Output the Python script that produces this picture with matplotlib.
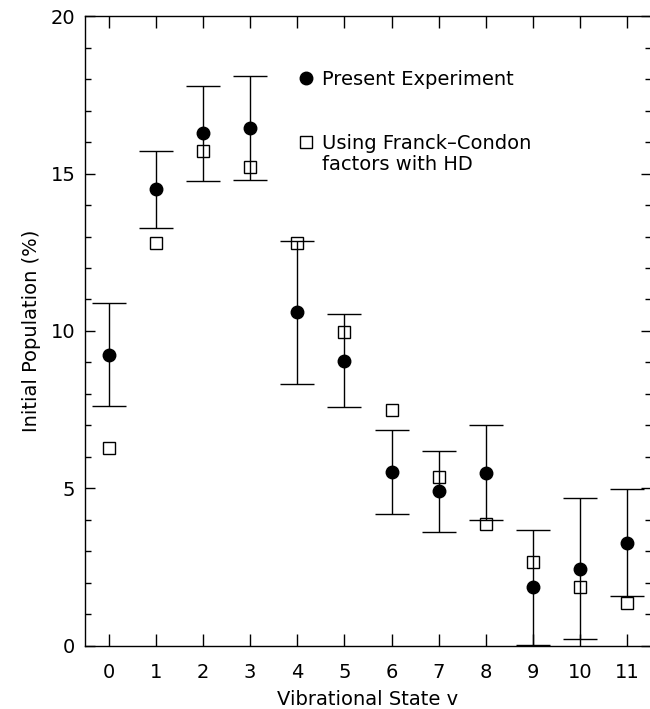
import matplotlib
matplotlib.use('Agg')
import matplotlib.pyplot as plt
from matplotlib.lines import Line2D
from matplotlib.ticker import MultipleLocator

# vibrational states
states = [0, 1, 2, 3, 4, 5, 6, 7, 8, 9, 10, 11]
# present experiment (%), with asymmetric error bar ends
present = [9.24, 14.51, 16.28, 16.43, 10.59, 9.05, 5.53, 4.91, 5.50, 1.86, 2.45, 3.28]
err_top = [10.88, 15.72, 17.77, 18.09, 12.87, 10.54, 6.87, 6.20, 7.02, 3.68, 4.69, 4.97]
err_bot = [7.62, 13.28, 14.77, 14.79, 8.33, 7.58, 4.20, 3.62, 4.01, 0.03, 0.22, 1.60]
# Franck-Condon factors with HD (%)
franck_condon = [6.28, 12.80, 15.71, 15.22, 12.80, 9.98, 7.48, 5.37, 3.86, 2.66, 1.86, 1.37]

plt.rcParams['font.family'] = ['DejaVu Sans']

fig = plt.figure(figsize=(6.5, 7.09), dpi=100)
ax = fig.add_axes([0.1308, 0.0889, 0.8707, 0.8885])

lower = [p - b for p, b in zip(present, err_bot)]
upper = [t - p for p, t in zip(present, err_top)]
ax.errorbar(states, present, yerr=[lower, upper], fmt='none', ecolor='black',
            elinewidth=1.0, capsize=12.2, capthick=1.0, zorder=2)
ax.plot(states, present, 'o', color='black', markersize=9, zorder=3)
ax.plot(states, franck_condon, 's', color='black', markersize=8.5,
        markerfacecolor='none', markeredgewidth=1.0, zorder=4)

ax.set_xlim(-0.5, 11.5)
ax.set_ylim(0, 20)
ax.set_xticks(states)
ax.yaxis.set_major_locator(MultipleLocator(5))
ax.yaxis.set_minor_locator(MultipleLocator(1))
ax.tick_params(axis='x', which='major', direction='in', top=True, length=8.6,
               width=1.0, pad=12, labelsize=14)
ax.tick_params(axis='y', which='major', direction='in', right=True, length=7.5,
               width=1.0, pad=7, labelsize=14)
ax.tick_params(axis='y', which='minor', direction='in', right=True, length=4,
               width=1.0)
for s in ax.spines.values():
    s.set_linewidth(1.0)

ax.set_xlabel('Vibrational State v', fontsize=14, labelpad=6)
ax.set_ylabel('Initial Population (%)', fontsize=14, labelpad=7)

h1 = Line2D([], [], marker='o', color='black', linestyle='none', markersize=9)
h2 = Line2D([], [], marker='s', color='black', linestyle='none', markersize=8.5,
            markerfacecolor='none', markeredgewidth=1.0)
h3 = Line2D([], [], linestyle='none')
leg1 = ax.legend([h1], ['Present Experiment'], loc='center left',
                 bbox_to_anchor=(0.373, 0.90), frameon=False, fontsize=14,
                 borderpad=0, borderaxespad=0, handlelength=1.0,
                 handletextpad=0.32)
ax.add_artist(leg1)
ax.legend([h2, h3], ['Using Franck\u2013Condon', 'factors with HD'],
          loc='center left', bbox_to_anchor=(0.373, 0.781), frameon=False,
          fontsize=14, borderpad=0, borderaxespad=0, handlelength=1.0,
          handletextpad=0.32, labelspacing=0.15)

fig.savefig('out.png', dpi=100)
